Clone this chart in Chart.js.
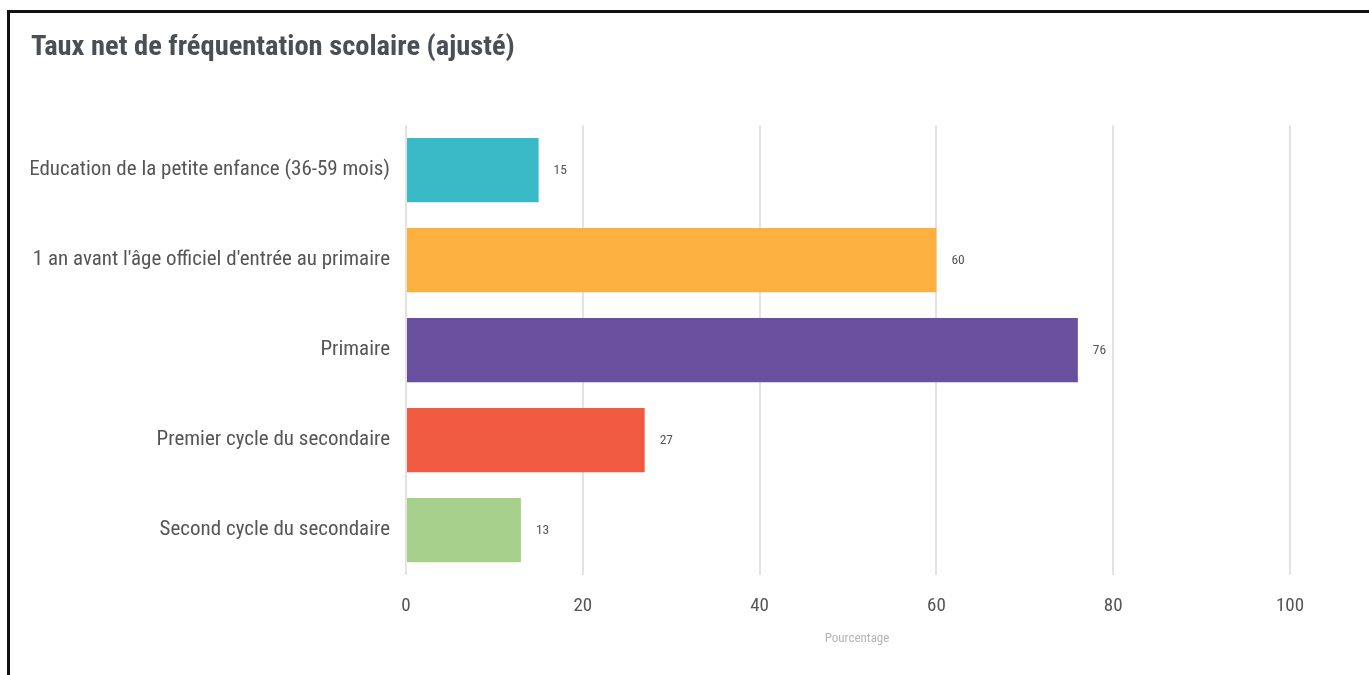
<!DOCTYPE html>
<html>
<head>
<meta charset="utf-8">
<script src="https://cdn.jsdelivr.net/npm/chart.js@4/dist/chart.umd.min.js"></script>
<style>
  html, body { margin: 0; padding: 0; background: #fff; width: 1369px; height: 675px; overflow: hidden; }
  #frame { position: absolute; left: 7px; top: 10px; width: 1362px; height: 665px;
           border-left: 3px solid #111; border-top: 3px solid #111; box-sizing: border-box; }
  #wrap { position: absolute; left: 3px; top: 3px; width: 1359px; height: 662px; }
</style>
</head>
<body>
<div id="frame"><div id="wrap"><canvas id="c"></canvas></div></div>
<script>
const categories = [
  "Education de la petite enfance (36-59 mois)",
  "1 an avant l'âge officiel d'entrée au primaire",
  "Primaire",
  "Premier cycle du secondaire",
  "Second cycle du secondaire"
];
const values = [15, 60, 76, 27, 13];
const barColors = ["#3AB9C6", "#FBB040", "#6A4F9F", "#F05A40", "#A8D08D"];
const xTicks = [0, 20, 40, 60, 80, 100];
const titleText = "Taux net de fréquentation scolaire (ajusté)";
const xAxisTitle = "Pourcentage";

const FONT = "'Liberation Sans Narrow', 'Roboto Condensed', 'DejaVu Sans Condensed', 'Arial Narrow', sans-serif";

const valueLabels = {
  id: 'valueLabels',
  afterDatasetsDraw(chart) {
    const ctx = chart.ctx;
    const meta = chart.getDatasetMeta(0);
    ctx.save();
    ctx.font = "13.5px " + FONT;
    ctx.fillStyle = "#555";
    ctx.textAlign = "left";
    ctx.textBaseline = "middle";
    meta.data.forEach((bar, i) => {
      ctx.fillText(String(values[i]), bar.x + 15, bar.y);
    });
    // x-axis title
    const a = chart.chartArea;
    ctx.font = "13px " + FONT;
    ctx.fillStyle = "#b5b5b5";
    ctx.textAlign = "center";
    ctx.fillText(xAxisTitle, (a.left + a.right) / 2 + 9, a.bottom + 64);
    ctx.restore();
  }
};

new Chart(document.getElementById('c'), {
  type: 'bar',
  data: {
    labels: categories,
    datasets: [{
      data: values,
      backgroundColor: barColors,
      borderWidth: 0,
      categoryPercentage: 0.714,
      barPercentage: 1.0
    }]
  },
  options: {
    indexAxis: 'y',
    responsive: true,
    maintainAspectRatio: false,
    animation: false,
    layout: { padding: { left: 18, right: 82, top: 0, bottom: 40 } },
    plugins: {
      legend: { display: false },
      tooltip: { enabled: false },
      title: {
        display: true,
        text: titleText,
        align: 'start',
        color: '#4a4f55',
        font: { family: FONT, size: 28.5, weight: 'bold' },
        padding: { top: 15, bottom: 60 }
      }
    },
    scales: {
      x: {
        min: 0,
        max: 100,
        afterBuildTicks(scale) { scale.ticks = xTicks.map(v => ({ value: v })); },
        grid: { color: '#e3e3e3', lineWidth: 2, drawTicks: false },
        border: { display: false },
        ticks: { color: '#555', font: { family: FONT, size: 19 }, padding: 20 },
        title: { display: false }
      },
      y: {
        afterFit(scale) { scale.width = 375; },
        grid: { display: false, drawTicks: false },
        border: { display: false },
        ticks: { color: '#555', font: { family: FONT, size: 21 }, padding: 16 }
      }
    }
  },
  plugins: [valueLabels]
});
</script>
</body>
</html>
